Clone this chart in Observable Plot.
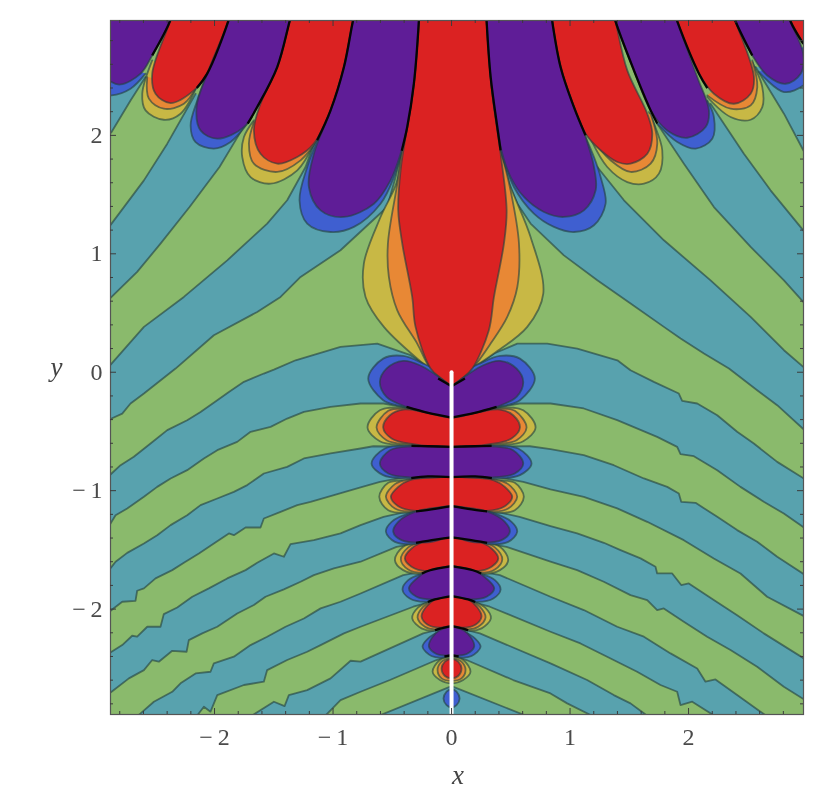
<!DOCTYPE html>
<html><head><meta charset="utf-8">
<script src="https://cdn.jsdelivr.net/npm/d3@7"></script>
<script src="https://cdn.jsdelivr.net/npm/@observablehq/plot@0.6"></script>
<style>
html,body{margin:0;padding:0;background:#fff;overflow:hidden}
#bar{position:fixed;left:0;top:0;width:2px;height:794px;background:#d4d4d4}
svg{display:block;filter:blur(0.5px)}
</style></head><body><div id="bar"></div><div id="chart"></div>
<script>
const tickMajor=[-2,-1,0,1,2];
const tickMinor=[-2.8,-2.6,-2.4,-2.2,-1.8,-1.6,-1.4,-1.2,-0.8,-0.6,-0.4,-0.2,0.2,0.4,0.6,0.8,1.2,1.4,1.6,1.8,2.2,2.4,2.6,2.8];
const green="#8aba6c",teal="#58a2ae",blue="#3f5fd0",purple="#5f1d97",red="#db2222",orange="#e88835",yellow="#c8b845";

// contour lines, upper half
const U1=[[.414,1.874],[.470,1.620],[.555,1.423],[.667,1.255],[.948,.987],[1.230,.776],[1.511,.580],[1.792,.383],[1.933,.284],[2.130,.158],[2.341,.031],[2.579,-.152],[2.748,-.278],[2.973,-.484]];
const U2=[[1.230,1.733],[1.455,1.452],[1.792,1.114],[2.186,.776],[2.524,.467],[2.805,.186],[2.968,.045]];
const U3=[[1.736,2.099],[1.961,1.761],[2.214,1.395],[2.524,1.058],[2.805,.776],[2.968,.594]];
const U4=[[2.186,2.267],[2.467,1.845],[2.692,1.536],[2.968,1.198]];
const U5=[[2.566,2.577],[2.805,2.183],[2.968,1.874]];
const V1=[[-.42,1.87],[-.472,1.648],[-.543,1.395],[-.937,1.030],[-1.274,.805],[-1.443,.636],[-1.640,.509],[-2.006,.312],[-2.329,.031],[-2.596,-.180],[-2.709,-.264],[-2.779,-.349],[-2.869,-.391]];
const V2=[[-1.162,1.930],[-1.232,1.733],[-1.387,1.452],[-1.556,1.255],[-1.893,.945],[-2.259,.636],[-2.596,.383],[-2.869,.073]];
const V3=[[-1.738,2.099],[-1.958,1.733],[-2.211,1.395],[-2.456,1.086],[-2.653,.847],[-2.869,.636]];
const V4=[[-2.160,2.352],[-2.399,1.930],[-2.596,1.620],[-2.869,1.255]];
const V5=[[-2.582,2.492],[-2.709,2.295],[-2.869,2.028]];

// contour lines, lower half: centre to edge
const AL=[[0,-.05],[-.191,.045],[-.346,.144],[-.627,.242],[-.937,.214],[-1.316,.101],[-1.499,.022],[-1.584,-.011],[-1.752,-.081],[-1.879,-.166],[-1.977,-.236],[-2.118,-.335],[-2.231,-.405],[-2.399,-.489],[-2.540,-.602],[-2.681,-.714],[-2.793,-.785],[-2.869,-.855]];
const AR=[[0,-.05],[.175,.031],[.358,.158],[.555,.242],[.808,.242],[1.061,.200],[1.399,.101],[1.510,.017],[1.707,-.081],[1.918,-.180],[1.946,-.242],[2.073,-.264],[2.242,-.363],[2.410,-.503],[2.551,-.602],[2.748,-.757],[2.973,-.897]];
const CL=[[0,-.38],[-.38,-.30],[-.574,-.264],[-.768,-.264],[-1.021,-.292],[-1.246,-.335],[-1.387,-.391],[-1.527,-.461],[-1.696,-.503],[-1.809,-.588],[-1.977,-.658],[-2.090,-.728],[-2.231,-.827],[-2.371,-.897],[-2.484,-.968],[-2.596,-1.052],[-2.737,-1.150],[-2.835,-1.207],[-2.869,-1.263]];
const CR=[[0,-.38],[.38,-.30],[.574,-.264],[.835,-.264],[1.116,-.306],[1.398,-.405],[1.735,-.546],[1.904,-.630],[1.932,-.692],[2.045,-.709],[2.242,-.827],[2.438,-.968],[2.635,-1.094],[2.804,-1.193],[2.973,-1.311]];
const DL=[[0,-.63],[-.661,-.625],[-.768,-.644],[-1.021,-.686],[-1.246,-.728],[-1.387,-.799],[-1.584,-.855],[-1.724,-.953],[-1.837,-1.010],[-1.977,-1.066],[-2.118,-1.122],[-2.231,-1.207],[-2.371,-1.291],[-2.484,-1.376],[-2.596,-1.446],[-2.737,-1.525],[-2.835,-1.600],[-2.869,-1.643]];
const DR=[[0,-.63],[.661,-.625],[.835,-.650],[1.116,-.700],[1.369,-.785],[1.623,-.897],[1.820,-.968],[1.918,-1.024],[1.938,-1.094],[2.059,-1.103],[2.242,-1.221],[2.410,-1.333],[2.579,-1.432],[2.748,-1.558],[2.973,-1.705]];
const EL=[[0,-.885],[-.38,-.883],[-.605,-.926],[-.768,-.973],[-.993,-1.038],[-1.190,-1.094],[-1.302,-1.122],[-1.443,-1.179],[-1.584,-1.235],[-1.612,-1.311],[-1.738,-1.311],[-1.837,-1.376],[-1.879,-1.361],[-2.006,-1.446],[-2.132,-1.530],[-2.259,-1.609],[-2.357,-1.671],[-2.498,-1.741],[-2.596,-1.825],[-2.653,-1.845],[-2.667,-1.930],[-2.779,-1.938],[-2.869,-2.008]];
const ER=[[0,-.885],[.38,-.883],[.605,-.926],[.835,-.990],[1.116,-1.052],[1.398,-1.150],[1.651,-1.263],[1.960,-1.418],[2.213,-1.572],[2.438,-1.699],[2.663,-1.896],[2.973,-2.059]];
const FL=[[0,-1.13],[-.32,-1.165],[-.574,-1.221],[-.768,-1.291],[-.937,-1.361],[-1.162,-1.418],[-1.359,-1.451],[-1.415,-1.558],[-1.499,-1.530],[-1.640,-1.609],[-1.738,-1.671],[-1.893,-1.741],[-2.048,-1.825],[-2.188,-1.896],[-2.315,-1.986],[-2.428,-2.042],[-2.456,-2.149],[-2.568,-2.149],[-2.653,-2.233],[-2.695,-2.225],[-2.779,-2.304],[-2.869,-2.360]];
const FR=[[0,-1.13],[.32,-1.165],[.574,-1.221],[.835,-1.299],[1.060,-1.361],[1.285,-1.440],[1.426,-1.502],[1.595,-1.572],[1.721,-1.643],[1.735,-1.699],[1.862,-1.699],[1.938,-1.797],[2.002,-1.783],[2.213,-1.924],[2.410,-2.051],[2.635,-2.205],[2.973,-2.416]];
const GL=[[0,-1.395],[-.464,-1.474],[-.768,-1.600],[-.993,-1.657],[-1.162,-1.713],[-1.274,-1.769],[-1.415,-1.834],[-1.570,-1.896],[-1.668,-1.966],[-1.809,-2.037],[-1.977,-2.149],[-2.104,-2.205],[-2.217,-2.262],[-2.236,-2.360],[-2.357,-2.352],[-2.470,-2.444],[-2.526,-2.430],[-2.596,-2.515],[-2.723,-2.585],[-2.869,-2.698]];
const GR=[[0,-1.395],[.464,-1.474],[.835,-1.600],[1.060,-1.671],[1.285,-1.769],[1.510,-1.882],[1.651,-1.924],[1.735,-2.008],[1.791,-1.994],[1.960,-2.107],[2.157,-2.233],[2.354,-2.346],[2.579,-2.487],[2.804,-2.655],[2.973,-2.762]];
const HL=[[0,-1.637],[-.408,-1.713],[-.768,-1.868],[-.937,-1.938],[-1.105,-1.994],[-1.246,-2.079],[-1.401,-2.149],[-1.556,-2.233],[-1.696,-2.304],[-1.837,-2.402],[-2.006,-2.459],[-2.034,-2.529],[-2.160,-2.543],[-2.287,-2.627],[-2.357,-2.698],[-2.512,-2.782],[-2.624,-2.880]];
const HR=[[0,-1.637],[.408,-1.713],[.835,-1.896],[1.116,-2.008],[1.398,-2.149],[1.623,-2.233],[1.848,-2.374],[2.073,-2.501],[2.143,-2.613],[2.227,-2.594],[2.410,-2.726],[2.607,-2.866]];
const IL=[[0,-1.89],[-.323,-1.980],[-.768,-2.149],[-.908,-2.205],[-1.105,-2.304],[-1.218,-2.360],[-1.387,-2.430],[-1.556,-2.515],[-1.584,-2.613],[-1.752,-2.641],[-1.977,-2.726],[-2.034,-2.866],[-2.090,-2.824],[-2.132,-2.880]];
const IR=[[0,-1.89],[.323,-1.980],[.835,-2.191],[1.088,-2.290],[1.313,-2.402],[1.566,-2.529],[1.763,-2.641],[1.904,-2.698],[1.932,-2.810],[2.031,-2.782],[2.185,-2.880]];
const JL=[[0,-2.143],[-.239,-2.205],[-.768,-2.444],[-.852,-2.436],[-1.021,-2.585],[-1.218,-2.684],[-1.373,-2.726],[-1.409,-2.819],[-1.499,-2.782],[-1.654,-2.880]];
const JR=[[0,-2.143],[.239,-2.205],[.835,-2.458],[1.144,-2.599],[1.369,-2.726],[1.510,-2.796],[1.623,-2.880]];
const KL=[[0,-2.388],[-.127,-2.430],[-.520,-2.599],[-.768,-2.698],[-.937,-2.768],[-1.046,-2.880]];
const KR=[[0,-2.388],[.127,-2.430],[.52,-2.599],[.835,-2.712],[.976,-2.796],[1.144,-2.880]];
const LL=[[0,-2.650],[-.563,-2.880]];
const LR=[[0,-2.650],[.577,-2.880]];

// top petals
const redC=[[-.27,3.1],[-.276,2.962],[-.318,2.436],[-.430,1.705],[-.450,1.367],[-.416,1.086],[-.332,.636],[-.304,.383],[-.177,.031],[-.09,-.05],[0,-.118],[0,-.118],[.09,-.05],[.175,.031],[.315,.355],[.358,.636],[.442,1.086],[.465,1.367],[.414,1.845],[.344,2.352],[.296,2.962],[.29,3.1]];
const orangeC=[[-.42,1.87],[-.458,1.592],[-.537,1.086],[-.529,.805],[-.458,.523],[-.290,.242],[-.177,.031],[0,-.118],[0,-.118],[.175,.031],[.330,.242],[.470,.467],[.555,.720],[.569,1.086],[.498,1.536],[.414,1.874]];
const yellowC=[[-.42,1.87],[-.464,1.600],[-.599,1.311],[-.740,.917],[-.726,.636],[-.571,.383],[-.191,.031],[0,-.118],[0,-.118],[.175,.031],[.358,.158],[.639,.383],[.774,.664],[.667,1.142],[.490,1.592],[.414,1.874]];
const purpleTop=[
 [[.29,3.1],[.296,2.962],[.330,2.492],[.386,2.070],[.428,1.845],[.498,1.648],[.611,1.480],[.780,1.353],[.948,1.311],[1.117,1.367],[1.216,1.536],[1.202,1.733],[1.131,1.986],[1.033,2.239],[.920,2.577],[.850,2.962],[.83,3.1]],
 [[1.35,3.1],[1.384,2.962],[1.539,2.549],[1.680,2.211],[1.820,2.042],[1.989,1.980],[2.144,2.070],[2.172,2.211],[2.074,2.492],[1.905,2.962],[1.86,3.1]],
 [[2.35,3.1],[2.397,2.962],[2.538,2.675],[2.664,2.506],[2.819,2.436],[2.946,2.520],[2.968,2.689],[2.861,2.962],[2.82,3.1]],
 [[-.27,3.1],[-.276,2.962],[-.318,2.436],[-.374,2.070],[-.430,1.845],[-.515,1.620],[-.655,1.423],[-.908,1.311],[-1.105,1.367],[-1.204,1.564],[-1.162,1.845],[-1.021,2.211],[-.908,2.577],[-.833,2.962],[-.8,3.1]],
 [[-1.33,3.1],[-1.367,2.962],[-1.471,2.577],[-1.640,2.239],[-1.752,2.070],[-1.977,1.972],[-2.118,2.042],[-2.152,2.239],[-2.062,2.521],[-1.885,2.962],[-1.85,3.1]],
 [[-2.34,3.1],[-2.377,2.962],[-2.526,2.675],[-2.624,2.521],[-2.793,2.430],[-2.869,2.450],[-3.0,2.6],[-3.0,3.1]]
];
const blueTop=[
 [[.414,1.874],[.526,1.564],[.695,1.339],[.864,1.227],[1.033,1.184],[1.202,1.241],[1.300,1.423],[1.258,1.648],[1.202,1.817],[1.131,1.986]],
 [[1.736,2.099],[1.905,1.944],[2.060,1.888],[2.200,1.972],[2.214,2.155],[2.158,2.295]],
 [[2.594,2.535],[2.805,2.366],[2.968,2.422],[3.016,2.492],[3.016,2.774]],
 [[-.42,1.87],[-.486,1.648],[-.599,1.423],[-.824,1.227],[-1.021,1.184],[-1.218,1.255],[-1.283,1.452],[-1.218,1.733],[-1.134,1.958]],
 [[-1.724,2.099],[-1.865,1.944],[-2.006,1.888],[-2.160,1.944],[-2.202,2.084],[-2.146,2.295],[-2.062,2.521]],
 [[-2.582,2.521],[-2.709,2.394],[-2.869,2.338],[-3.0,2.36],[-3.0,2.7]]
];
const redTop=[
 [[.83,3.1],[.920,2.577],[1.033,2.239],[1.131,2.014],[1.258,1.874],[1.399,1.775],[1.511,1.761],[1.652,1.845],[1.694,2.014],[1.652,2.183],[1.483,2.549],[1.384,2.962],[1.35,3.1]],
 [[1.86,3.1],[1.905,2.962],[2.088,2.521],[2.214,2.352],[2.383,2.267],[2.524,2.352],[2.552,2.492],[2.397,2.962],[2.35,3.1]],
 [[2.82,3.1],[2.861,2.962],[2.968,2.774],[3.05,2.6],[3.05,3.1]],
 [[-.8,3.1],[-.833,2.962],[-.908,2.577],[-1.021,2.211],[-1.162,1.930],[-1.302,1.817],[-1.471,1.761],[-1.612,1.845],[-1.668,2.042],[-1.612,2.267],[-1.471,2.577],[-1.367,2.962],[-1.33,3.1]],
 [[-1.85,3.1],[-1.885,2.962],[-2.062,2.521],[-2.174,2.380],[-2.371,2.273],[-2.498,2.352],[-2.526,2.521],[-2.377,2.962],[-2.34,3.1]]
];
const orangeTop=[
 [[1.173,1.986],[1.342,1.789],[1.511,1.691],[1.680,1.761],[1.736,1.930],[1.680,2.183]],
 [[2.158,2.338],[2.355,2.225],[2.524,2.253],[2.580,2.408],[2.538,2.633]],
 [[-1.134,1.958],[-1.274,1.789],[-1.471,1.691],[-1.668,1.761],[-1.710,1.930],[-1.668,2.113]],
 [[-2.146,2.422],[-2.259,2.267],[-2.428,2.225],[-2.554,2.310],[-2.568,2.492]]
];
const yellowTop=[
 [[1.173,1.972],[1.314,1.733],[1.483,1.606],[1.624,1.592],[1.750,1.677],[1.778,1.874],[1.708,2.099],[1.666,2.197]],
 [[2.158,2.324],[2.355,2.155],[2.524,2.132],[2.622,2.239],[2.622,2.408],[2.538,2.619]],
 [[-1.162,1.930],[-1.302,1.705],[-1.527,1.592],[-1.696,1.648],[-1.766,1.817],[-1.752,1.986],[-1.668,2.127]],
 [[-2.146,2.422],[-2.287,2.183],[-2.428,2.132],[-2.582,2.211],[-2.610,2.352],[-2.526,2.633]]
];

// lobes along the axis: right-hand half outlines
const purpleHalf=[
 [[0,-.118],[.267,.059],[.408,.096],[.549,.031],[.605,-.082],[.549,-.208],[.380,-.293],[.197,-.343],[0,-.383]],
 [[0,-.630],[.338,-.625],[.520,-.658],[.605,-.771],[.534,-.855],[.338,-.889],[0,-.883]],
 [[0,-1.131],[.309,-1.179],[.450,-1.263],[.492,-1.347],[.422,-1.418],[.197,-1.437],[0,-1.395]],
 [[0,-1.637],[.197,-1.676],[.309,-1.755],[.360,-1.825],[.295,-1.896],[.169,-1.918],[0,-1.890]],
 [[0,-2.143],[.098,-2.177],[.169,-2.247],[.191,-2.318],[.127,-2.379],[.056,-2.391],[0,-2.388]]
];
const blueHalf=[
 [[0,-.05],[.225,.067],[.408,.138],[.577,.115],[.703,-.053],[.577,-.236],[.464,-.279],[.380,-.293],[0,-.383]],
 [[0,-.630],[.338,-.619],[.563,-.644],[.675,-.771],[.577,-.869],[.394,-.897],[0,-.883]],
 [[0,-1.131],[.323,-1.179],[.506,-1.263],[.554,-1.347],[.478,-1.432],[.309,-1.452],[0,-1.395]],
 [[0,-1.637],[.239,-1.699],[.366,-1.755],[.414,-1.834],[.352,-1.910],[.225,-1.938],[0,-1.890]],
 [[0,-2.143],[.113,-2.191],[.197,-2.247],[.245,-2.318],[.169,-2.396],[.070,-2.408],[0,-2.388]],
 [[0,-2.672],[.042,-2.697],[.068,-2.754],[.042,-2.810],[0,-2.830]]
];
const redHalf=[
 [[0,-.383],[.239,-.335],[.408,-.315],[.520,-.363],[.577,-.467],[.506,-.560],[.323,-.608],[0,-.630]],
 [[0,-.883],[.352,-.911],[.450,-.968],[.512,-1.052],[.450,-1.131],[.295,-1.170],[0,-1.131]],
 [[0,-1.395],[.211,-1.423],[.338,-1.488],[.394,-1.572],[.338,-1.642],[.211,-1.679],[0,-1.637]],
 [[0,-1.890],[.141,-1.918],[.219,-1.986],[.253,-2.064],[.197,-2.135],[.098,-2.157],[0,-2.143]],
 [[0,-2.416],[.056,-2.444],[.084,-2.500],[.056,-2.565],[0,-2.585]]
];
const orangeHalf=[
 [[0,-.383],[.408,-.307],[.534,-.326],[.633,-.467],[.549,-.574],[.366,-.610],[0,-.630]],
 [[0,-.883],[.366,-.906],[.478,-.945],[.554,-1.052],[.478,-1.151],[.352,-1.179],[0,-1.131]],
 [[0,-1.395],[.239,-1.426],[.366,-1.479],[.428,-1.581],[.366,-1.665],[.239,-1.693],[0,-1.637]],
 [[0,-1.890],[.155,-1.924],[.239,-1.980],[.287,-2.070],[.225,-2.149],[.141,-2.171],[0,-2.143]],
 [[0,-2.410],[.084,-2.444],[.118,-2.514],[.084,-2.585],[0,-2.605]]
];
const yellowHalf=[
 [[0,-.383],[.408,-.301],[.605,-.321],[.709,-.467],[.605,-.582],[.422,-.616],[0,-.630]],
 [[0,-.883],[.366,-.911],[.534,-.934],[.610,-1.052],[.534,-1.165],[.366,-1.187],[0,-1.131]],
 [[0,-1.395],[.239,-1.431],[.408,-1.474],[.478,-1.586],[.408,-1.671],[.239,-1.704],[0,-1.637]],
 [[0,-1.890],[.169,-1.929],[.281,-1.986],[.332,-2.078],[.253,-2.163],[.155,-2.183],[0,-2.143]],
 [[0,-2.402],[.098,-2.430],[.160,-2.529],[.098,-2.599],[0,-2.627]]
];
// zero crossings drawn heavy
const heavyTop=[
 [[.29,3.1],[.296,2.962],[.330,2.492],[.386,2.070],[.414,1.874]],
 [[.83,3.1],[.920,2.577],[1.033,2.239],[1.131,2.0]],
 [[1.35,3.1],[1.384,2.962],[1.539,2.549],[1.680,2.211],[1.736,2.1]],
 [[1.86,3.1],[1.905,2.962],[2.088,2.521],[2.158,2.4]],
 [[2.35,3.1],[2.397,2.962],[2.538,2.675]],
 [[2.82,3.1],[2.861,2.962],[2.968,2.774]],
 [[-.27,3.1],[-.276,2.962],[-.318,2.436],[-.374,2.07],[-.42,1.87]],
 [[-.8,3.1],[-.833,2.962],[-.908,2.577],[-1.021,2.211],[-1.134,1.958]],
 [[-1.33,3.1],[-1.367,2.962],[-1.471,2.577],[-1.64,2.239],[-1.72,2.1]],
 [[-1.85,3.1],[-1.885,2.962],[-2.062,2.521],[-2.15,2.4]],
 [[-2.34,3.1],[-2.377,2.962],[-2.526,2.675]]
];
const heavyAxis=[
 [[0,-.118],[.113,-.053]],
 [[0,-.383],[.197,-.343],[.38,-.293]],
 [[0,-.630],[.2,-.625],[.338,-.622]],
 [[0,-.885],[.2,-.880],[.34,-.895]],
 [[0,-1.131],[.17,-1.158],[.3,-1.175]],
 [[0,-1.395],[.2,-1.423],[.3,-1.44]],
 [[0,-1.637],[.18,-1.672],[.25,-1.70]],
 [[0,-1.89],[.14,-1.918],[.2,-1.94]],
 [[0,-2.143],[.1,-2.165],[.14,-2.18]],
 [[0,-2.388],[.03,-2.395],[.06,-2.40]]
];
const branchCut=[[0,0],[0,-2.89]];

// helpers
const ext=l=>{const a=l[l.length-2],b=l[l.length-1];return [...l,[b[0]+(b[0]-a[0])*.6,b[1]+(b[1]-a[1])*.6]];};
const rev=l=>[...l].reverse();
const mirror=h=>[...h,...rev(h).slice(1).map(([x,y])=>[-x,y])];
const band=(tl,tr,bl,br)=>[...rev(ext(tl)),...ext(tr).slice(1),...rev(ext(br)),...ext(bl).slice(1)];
const tealBands=[
 [...U5,[3.1,1.65],[3.1,2.6]],
 [...V5,[-3.1,1.8],[-3.1,2.6]],
 [...ext(U4),...rev(ext(U3))],
 [...ext(V4),...rev(ext(V3))],
 [...ext(U2),...rev(ext(U1))],
 [...ext(V2),...rev(ext(V1))],
 band(AL,AR,CL,CR),band(DL,DR,EL,ER),band(FL,FR,GL,GR),band(HL,HR,IL,IR),band(JL,JR,KL,KR),
 [...rev(ext(LL)),...ext(LR).slice(1)]
];
const contour="#24403f";
const edge={stroke:contour,strokeOpacity:.62,strokeWidth:1.8,strokeLinejoin:"round",clip:true};
const blob=(p,fill)=>Plot.line(p,{...edge,fill,curve:"catmull-rom"});
const heavy=p=>Plot.line(p,{stroke:"#050505",strokeWidth:2.3,curve:"catmull-rom",clip:true,strokeLinecap:"butt"});
const signed=d=>d<0?"\u2212\u2009"+(-d):String(d);
const serif="'Liberation Serif','DejaVu Serif',serif";
const frameH=794-20-80;
const tk="#3c3c3c";

const chart=Plot.plot({
 width:836,height:794,marginLeft:110,marginRight:33,marginTop:20,marginBottom:80,
 x:{domain:[-2.878,2.970]},y:{domain:[-2.890,2.970]},
 style:{background:"#fff",fontFamily:serif},
 marks:[
  Plot.frame({fill:green,stroke:null}),
  ...tealBands.map(p=>Plot.line(p,{...edge,fill:teal})),
  ...yellowTop.map(p=>blob(p,yellow)),blob(yellowC,yellow),...yellowHalf.map(h=>blob(mirror(h),yellow)),
  ...orangeTop.map(p=>blob(p,orange)),blob(orangeC,orange),...orangeHalf.map(h=>blob(mirror(h),orange)),
  ...blueTop.map(p=>blob(p,blue)),...blueHalf.map(h=>blob(mirror(h),blue)),
  ...redTop.map(p=>blob(p,red)),blob(redC,red),...redHalf.map(h=>blob(mirror(h),red)),
  ...purpleTop.map(p=>blob(p,purple)),...purpleHalf.map(h=>blob(mirror(h),purple)),
  ...heavyTop.map(heavy),
  ...heavyAxis.map(heavy),...heavyAxis.map(h=>heavy(h.map(([x,y])=>[-x,y]))),
  Plot.line(branchCut,{stroke:"#fff",strokeWidth:4,strokeLinecap:"round",clip:true}),
  Plot.frame({stroke:"#555",strokeWidth:1.2}),
  Plot.tickX(tickMajor,{x:d=>d,insetTop:frameH-6,stroke:tk,strokeWidth:1}),
  Plot.tickX(tickMajor,{x:d=>d,insetBottom:frameH-6,stroke:tk,strokeWidth:1}),
  Plot.tickX(tickMinor,{x:d=>d,insetTop:frameH-3,stroke:tk,strokeWidth:1}),
  Plot.tickX(tickMinor,{x:d=>d,insetBottom:frameH-3,stroke:tk,strokeWidth:1}),
  Plot.tickY(tickMajor,{y:d=>d,insetRight:693-6,stroke:tk,strokeWidth:1}),
  Plot.tickY(tickMajor,{y:d=>d,insetLeft:693-6,stroke:tk,strokeWidth:1}),
  Plot.tickY(tickMinor,{y:d=>d,insetRight:693-3,stroke:tk,strokeWidth:1}),
  Plot.tickY(tickMinor,{y:d=>d,insetLeft:693-3,stroke:tk,strokeWidth:1}),
  Plot.axisX(tickMajor,{anchor:"bottom",tickSize:0,tickPadding:13,fontSize:24,color:"#4a4a4a",tickFormat:signed,label:null}),
  Plot.axisY(tickMajor,{anchor:"left",tickSize:0,tickPadding:8,fontSize:24,color:"#4a4a4a",tickFormat:signed,label:null}),
  Plot.text(["x"],{frameAnchor:"bottom",dx:1,dy:69,fontSize:27,fontStyle:"italic",fill:"#444"}),
  Plot.text(["y"],{frameAnchor:"left",dx:-60,dy:0,fontSize:27,fontStyle:"italic",fill:"#444"})
 ]
});
document.getElementById("chart").appendChild(chart);
</script></body></html>
